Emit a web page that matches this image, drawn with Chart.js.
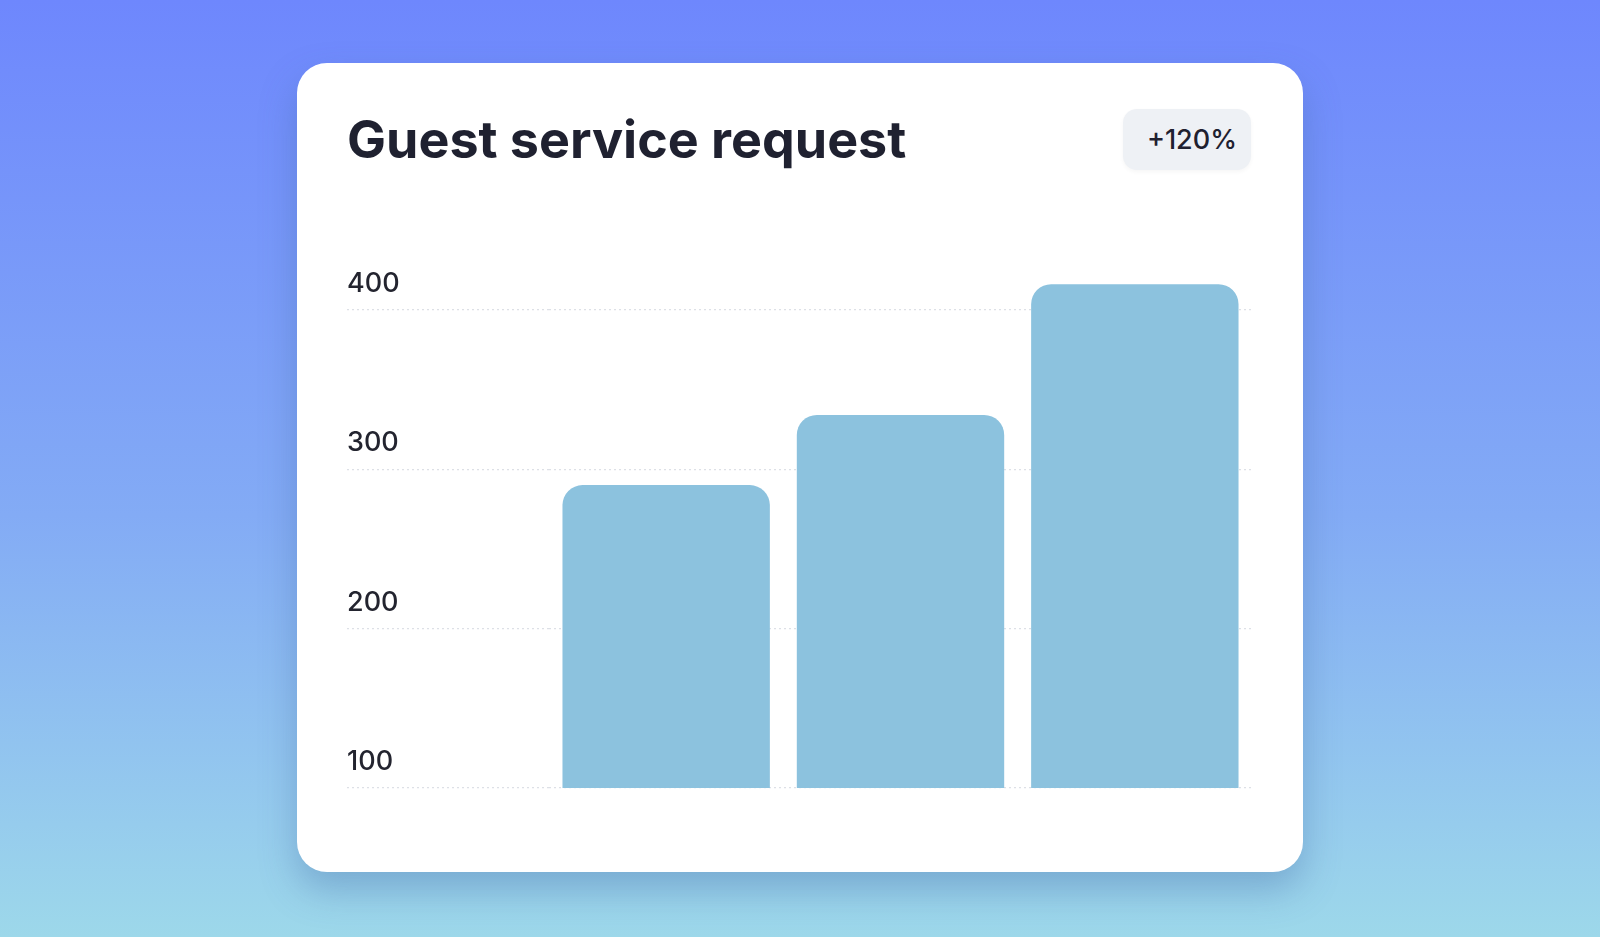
<!DOCTYPE html>
<html>
<head>
<meta charset="utf-8">
<title>Guest service request</title>
<script src="https://cdn.jsdelivr.net/npm/chart.js@4.4.1/dist/chart.umd.min.js"></script>
<style>
    html, body {
        margin: 0;
        width: 1600px;
        height: 937px;
        overflow: hidden;
    }
    body {
        position: relative;
        background: linear-gradient(180deg, #6e87fd 0%, #83abf5 55%, #9dd8ea 100%);
        font-family: Inter, "Noto Sans", sans-serif;
    }
    .card {
        position: absolute;
        left: 297px;
        top: 63px;
        width: 1006px;
        height: 809px;
        background: #fff;
        border-radius: 30px;
        box-shadow: 0 18px 36px rgba(60, 100, 160, 0.35);
    }
    .title {
        position: absolute;
        left: 347px;
        top: 108px;
        margin: 0;
        font-size: 52px;
        font-weight: 650;
        letter-spacing: 0px;
        color: #1f2130;
        white-space: nowrap;
    }
    .badge {
        position: absolute;
        left: 1123px;
        top: 109px;
        width: 128px;
        height: 61px;
        border-radius: 14px;
        background: #eef1f5;
        box-shadow: 0 2px 4px rgba(0, 0, 0, 0.04);
        color: #1f2130;
        font-size: 27px;
        font-weight: 500;
        line-height: 61px;
        text-align: right;
        padding-right: 14px;
        box-sizing: border-box;
    }
    .chart-box {
        position: absolute;
        left: 347px;
        top: 222px;
        width: 905px;
        height: 590px;
    }
</style>
</head>
<body>
<div class="card"></div>
<h1 class="title">Guest service request</h1>
<div class="badge">+120%</div>
<div class="chart-box"><canvas id="requests"></canvas></div>

<script>
// values
const periods = ['Period 1', 'Period 2', 'Period 3'];
const requests = [290, 334, 416];
const yTicks = [100, 200, 300, 400];

const textColor = '#23242f';
const gridColor = '#dde0e6';
const barColor = '#8cc2de';

const ctx = document.getElementById('requests');

new Chart(ctx, {
    type: 'bar',
    data: {
        labels: periods,
        datasets: [{
            data: requests,
            backgroundColor: barColor,
            borderWidth: 0,
            borderSkipped: 'bottom',
            borderRadius: { topLeft: 20, topRight: 20, bottomLeft: 0, bottomRight: 0 },
            barPercentage: 0.885,
            categoryPercentage: 1
        }]
    },
    options: {
        responsive: true,
        maintainAspectRatio: false,
        animation: false,
        layout: {
            padding: { top: 24, bottom: 24, left: 0, right: 0 }
        },
        plugins: {
            legend: { display: false },
            tooltip: { enabled: false }
        },
        scales: {
            x: {
                display: false,
                grid: { display: false }
            },
            y: {
                min: yTicks[0],
                max: 440,
                afterFit: (scale) => {
                    // wide axis so the labels sit at the card's left padding
                    scale.width = 202;
                },
                afterBuildTicks: (scale) => {
                    scale.ticks = yTicks.map(v => ({ value: v }));
                },
                ticks: {
                    color: textColor,
                    font: { family: 'Inter', size: 27, weight: 500 },
                    crossAlign: 'far',
                    labelOffset: -26,
                    padding: 0
                },
                grid: {
                    color: gridColor,
                    lineWidth: 1.3,
                    drawTicks: true,
                    tickLength: 202,
                    tickBorderDash: [2, 3]
                },
                border: {
                    display: false,
                    dash: [2, 3]
                }
            }
        }
    }
});
</script>
</body>
</html>
